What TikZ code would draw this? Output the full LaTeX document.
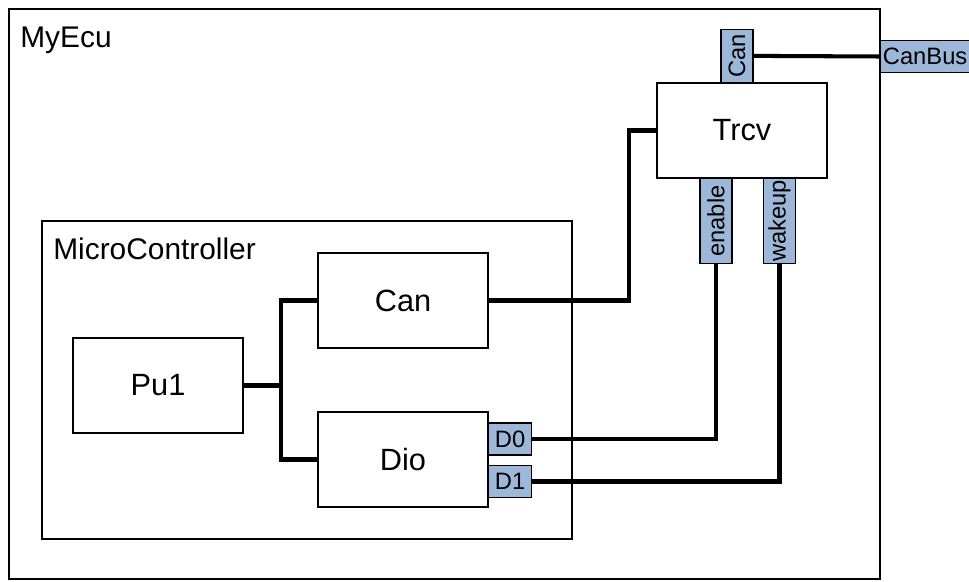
\documentclass[tikz,border=0pt]{standalone}
\usepackage{fontspec}
\setmainfont{Liberation Sans}
\usepackage{graphicx}
\usetikzlibrary{positioning}

\definecolor{portblue}{RGB}{157,183,216}

\tikzset{
	block/.style={draw, line width=0.7pt, fill=white, minimum width=3.4cm, minimum height=1.9cm, inner sep=0pt, font=\fontsize{17.5}{20}\selectfont},
	port/.style={draw, line width=0.7pt, fill=portblue, inner sep=0pt, font=\fontsize{13.5}{16}\selectfont},
	hport/.style={port, minimum height=0.64cm},
	vport/.style={port, minimum width=0.64cm},
	wire/.style={line width=2.3pt},
	title/.style={anchor=base west, inner sep=0pt, font=\fontsize{17}{20}\selectfont}
}

\begin{document}
\begin{tikzpicture}[x=0.02cm, y=-0.02cm]
	\useasboundingbox (0,0) rectangle (969,581);

	% containers
	\draw[line width=0.7pt] (9,9) rectangle (880,579);
	\node (MyEcu) [title] at (20,48) {MyEcu};
	\draw[line width=0.7pt] (42,221) rectangle (572,539);
	\node (MicroController) [title] at (53,259) {MicroController};

	% blocks
	\node (Trcv) [block] at (742,130.5) {Trcv};
	\node (Can) [block] at (403,300.5) {Can};
	\node (Pu1) [block] at (158,385.5) {Pu1};
	\node (Dio) [block] at (403,459.5) {Dio};

	% ports
	\node (TrcvCan) [vport, minimum height=1.06cm, anchor=south] at (737,83) {\rotatebox{90}{Can}};
	\node (Enable) [vport, minimum height=1.7cm, anchor=north] at (716,178) {\rotatebox{90}{enable}};
	\node (Wakeup) [vport, minimum height=1.7cm, anchor=north] at (779.5,178) {\rotatebox{90}{wakeup}};
	\node (CanBus) [hport, minimum width=1.78cm, anchor=west] at (880,56.5) {CanBus};
	\node (D0) [hport, minimum width=0.86cm, anchor=west] at (488,439) {D0};
	\node (D1) [hport, minimum width=0.86cm, anchor=west] at (488,481.5) {D1};

	% wires
	\draw[wire] (TrcvCan.east) -- (CanBus.west);
	\draw[wire] (Trcv.west) -- ++(-27,0) |- (Can.east);
	\draw[wire] (Pu1.east) -- ++(37,0) coordinate (Split);
	\draw[wire] (Split) |- (Can.west);
	\draw[wire] (Split) |- (Dio.west);
	\draw[wire] (D0.east) -| (Enable.south);
	\draw[wire] (D1.east) -| (Wakeup.south);
\end{tikzpicture}
\end{document}
